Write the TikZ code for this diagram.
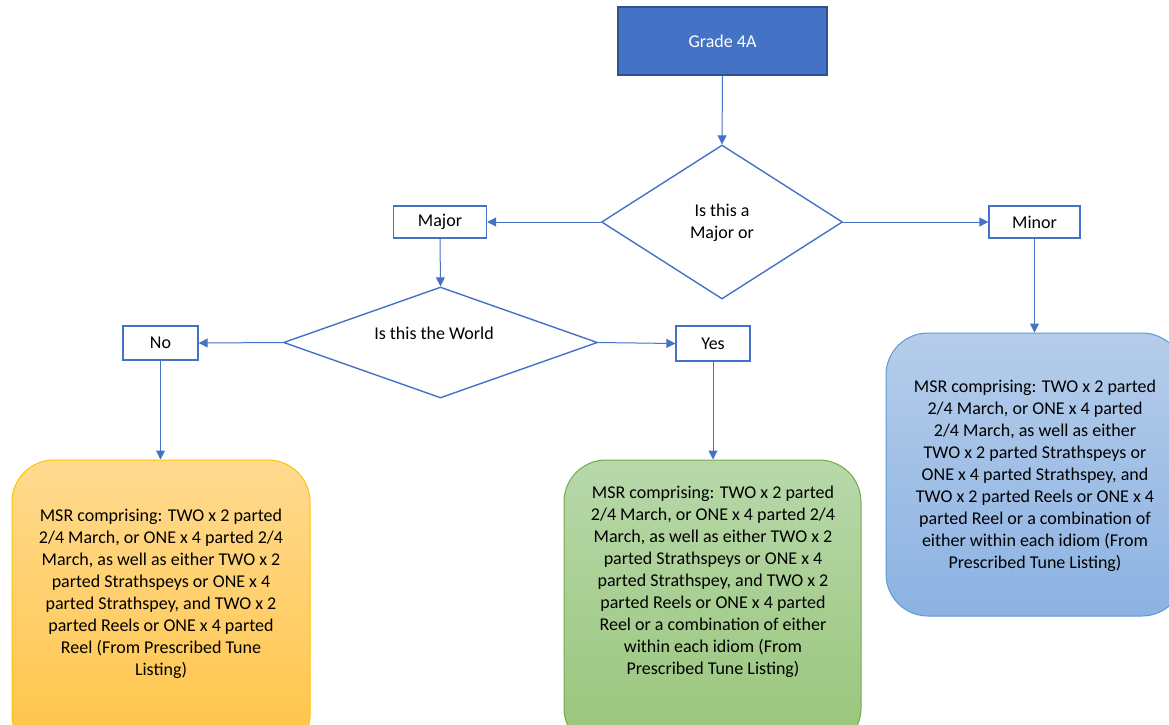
\documentclass[tikz,border=0pt]{standalone}
\usepackage{fontspec}
\setmainfont{Carlito}
\usetikzlibrary{arrows.meta,shapes.geometric}
\definecolor{lineblue}{HTML}{4472C4}
\definecolor{gradeborder}{HTML}{2F528F}
\definecolor{orangetop}{HTML}{FFDA90}
\definecolor{orangebot}{HTML}{FFC445}
\definecolor{orangeborder}{HTML}{FFC000}
\definecolor{greentop}{HTML}{B8D8AA}
\definecolor{greenbot}{HTML}{98C57A}
\definecolor{greenborder}{HTML}{70AD47}
\definecolor{bluetop}{HTML}{B5CDEA}
\definecolor{bluebot}{HTML}{8CB2E2}
\definecolor{blueborder}{HTML}{5B9BD5}
\begin{document}
\begin{tikzpicture}[x=1pt,y=-1pt,
  font=\fontsize{18}{22}\selectfont,
  smallbox/.style={draw=lineblue, line width=1.4pt, fill=white, inner sep=0pt},
  gradebox/.style={draw=gradeborder, line width=1.4pt, fill=lineblue, text=white, inner sep=0pt},
  decision/.style={diamond, draw=lineblue, line width=1.4pt, fill=white, inner sep=0pt},
  resultbox/.style={rounded corners=42pt, line width=1pt, inner sep=0pt},
  conn/.style={draw=lineblue, line width=1pt, -{Triangle[length=9pt,width=9pt]}},
  txt/.style={align=center, inner sep=0pt, text=black}
]
\useasboundingbox (0,0) rectangle (1169,724);
\clip (0,0) rectangle (1169,724);

% top box
\node[gradebox, minimum width=209pt, minimum height=68pt] (grade) at (722.5,41) {Grade 4A};

% decisions
\node[decision, minimum width=241pt, minimum height=154pt] (d1) at (722,222) {};
\node[txt] (d1t) at (722,222.5) {Is this a\\Major or};
\node[decision, minimum width=314pt, minimum height=111pt] (d2) at (440.5,342.5) {};
\node[txt] (d2t) at (434,333) {Is this the World};

% small boxes
\node[smallbox, minimum width=93pt, minimum height=32pt] (major) at (440,222) {Major};
\node[smallbox, minimum width=91pt, minimum height=32pt] (minor) at (1034.5,222) {Minor};
\node[smallbox, minimum width=75pt, minimum height=34pt] (no) at (160.5,343) {No};
\node[smallbox, minimum width=74pt, minimum height=35pt] (yes) at (713,343.5) {Yes};

% result boxes
\node[resultbox, draw=orangeborder, top color=orangetop, bottom color=orangebot,
      minimum width=298pt, minimum height=297pt] (orange) at (161,608.5) {};
\node[resultbox, draw=greenborder, top color=greentop, bottom color=greenbot,
      minimum width=297pt, minimum height=290pt] (green) at (712.5,605) {};
\node[resultbox, draw=blueborder, top color=bluetop, bottom color=bluebot,
      minimum width=298pt, minimum height=283pt] (blue) at (1035,474.5) {};

\node[txt] (orangetext) at (161,594) {MSR comprising: TWO x 2 parted\\2/4 March, or ONE x 4 parted 2/4\\March, as well as either TWO x 2\\parted Strathspeys or ONE x 4\\parted Strathspey, and TWO x 2\\parted Reels or ONE x 4 parted\\Reel (From Prescribed Tune\\Listing)};
\node[txt] (greentext) at (713,582) {MSR comprising: TWO x 2 parted\\2/4 March, or ONE x 4 parted 2/4\\March, as well as either TWO x 2\\parted Strathspeys or ONE x 4\\parted Strathspey, and TWO x 2\\parted Reels or ONE x 4 parted\\Reel or a combination of either\\within each idiom (From\\Prescribed Tune Listing)};
\node[txt] (bluetext) at (1035,475.5) {MSR comprising: TWO x 2 parted\\2/4 March, or ONE x 4 parted\\2/4 March, as well as either\\TWO x 2 parted Strathspeys or\\ONE x 4 parted Strathspey, and\\TWO x 2 parted Reels or ONE x 4\\parted Reel or a combination of\\either within each idiom (From\\Prescribed Tune Listing)};

% connectors
\draw[conn] (grade.south) -- (d1.north);
\draw[conn] (d1.west) -- (major.east);
\draw[conn] (d1.east) -- (minor.west);
\draw[conn] (major.south) -- (d2.north);
\draw[conn] (d2.west) -- (no.east);
\draw[conn] (d2.east) -- (yes.west);
\draw[conn] (no.south) -- (no.south |- orange.north);
\draw[conn] (yes.south) -- (yes.south |- green.north);
\draw[conn] (minor.south) -- (minor.south |- blue.north);
\end{tikzpicture}
\end{document}
